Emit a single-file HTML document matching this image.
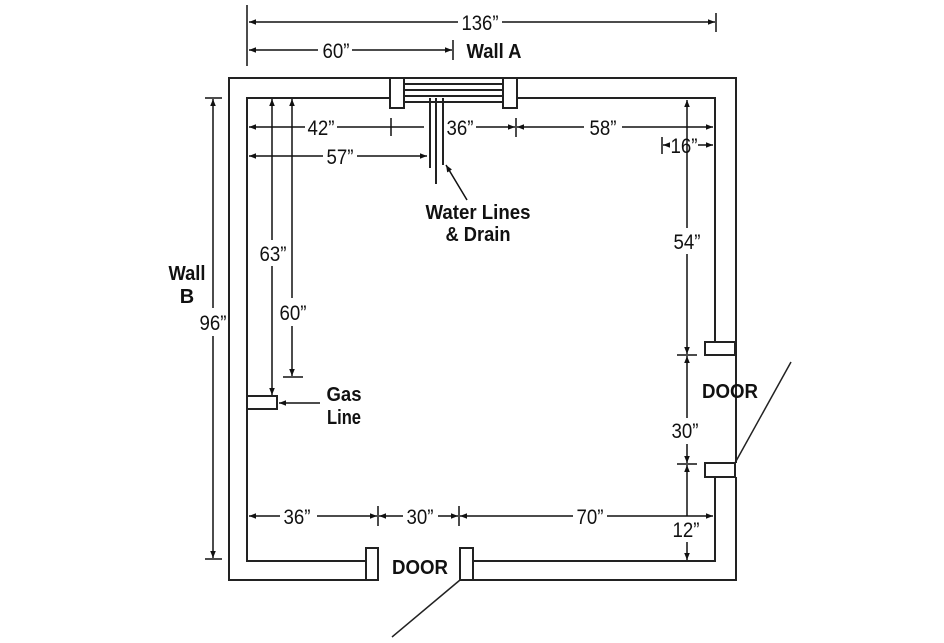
<!DOCTYPE html>
<html><head><meta charset="utf-8"><style>
html,body{margin:0;padding:0;background:#fff;}
svg{display:block;}
.d{font-family:"Liberation Sans Narrow","Liberation Sans",sans-serif;font-size:21px;fill:#111;text-anchor:middle;}
.b{font-family:"Liberation Sans Narrow","Liberation Sans",sans-serif;font-weight:bold;font-size:20px;fill:#111;text-anchor:middle;}
</style></head><body>
<svg width="944" height="643" viewBox="0 0 944 643" xmlns="http://www.w3.org/2000/svg">
<defs>
<marker id="a" viewBox="0 0 10 10" refX="10" refY="5" markerWidth="7" markerHeight="7" orient="auto-start-reverse" markerUnits="userSpaceOnUse"><path d="M0,1 L10,5 L0,9 z" fill="#111"/></marker>
</defs>
<g stroke="#222" stroke-width="2" fill="none">
<polyline points="366,580 229,580 229,78 736,78 736,463"/>
<polyline points="473,580 736,580 736,477"/>
<polyline points="366,561 247,561 247,98 390,98"/>
<polyline points="517,98 715,98 715,342"/>
<polyline points="473,561 715,561 715,477"/>
<rect x="390" y="78" width="14" height="30" fill="#fff"/>
<rect x="503" y="78" width="14" height="30" fill="#fff"/>
<line x1="404" y1="84" x2="503" y2="84"/>
<line x1="404" y1="90" x2="503" y2="90"/>
<line x1="404" y1="96" x2="503" y2="96"/>
<line x1="404" y1="102" x2="503" y2="102"/>
<rect x="705" y="342" width="30" height="13" fill="#fff"/>
<rect x="705" y="463" width="30" height="14" fill="#fff"/>
<line x1="735" y1="463" x2="791" y2="362" stroke-width="1.5"/>
<rect x="366" y="548" width="12" height="32" fill="#fff"/>
<rect x="460" y="548" width="13" height="32" fill="#fff"/>
<line x1="460" y1="580" x2="392" y2="637" stroke-width="1.5"/>
<line x1="430" y1="98" x2="430" y2="168"/>
<line x1="436" y1="98" x2="436" y2="184"/>
<line x1="443" y1="98" x2="443" y2="165"/>
<rect x="247" y="396" width="30" height="13" fill="#fff"/>
</g>
<g stroke="#111" stroke-width="1.5" fill="none">
<line x1="247" y1="5" x2="247" y2="66"/>
<line x1="716" y1="13" x2="716" y2="32"/>
<line x1="453" y1="40" x2="453" y2="60"/>
<line x1="249" y1="22" x2="458" y2="22" marker-start="url(#a)"/>
<line x1="502" y1="22" x2="715" y2="22" marker-end="url(#a)"/>
<line x1="249" y1="50" x2="318" y2="50" marker-start="url(#a)"/>
<line x1="352" y1="50" x2="452" y2="50" marker-end="url(#a)"/>
<line x1="249" y1="127" x2="305" y2="127" marker-start="url(#a)"/>
<line x1="337" y1="127" x2="424" y2="127"/>
<line x1="391" y1="118" x2="391" y2="136"/>
<line x1="476" y1="127" x2="515" y2="127" marker-end="url(#a)"/>
<line x1="516" y1="118" x2="516" y2="137"/>
<line x1="517" y1="127" x2="584" y2="127" marker-start="url(#a)"/>
<line x1="622" y1="127" x2="713" y2="127" marker-end="url(#a)"/>
<line x1="249" y1="156" x2="323" y2="156" marker-start="url(#a)"/>
<line x1="357" y1="156" x2="427" y2="156" marker-end="url(#a)"/>
<line x1="662" y1="137" x2="662" y2="154"/>
<line x1="663" y1="145" x2="670" y2="145" marker-start="url(#a)"/>
<line x1="698" y1="145" x2="713" y2="145" marker-end="url(#a)"/>
<line x1="687" y1="100" x2="687" y2="228" marker-start="url(#a)"/>
<line x1="687" y1="254" x2="687" y2="354" marker-end="url(#a)"/>
<line x1="677" y1="355" x2="697" y2="355"/>
<line x1="687" y1="356" x2="687" y2="418" marker-start="url(#a)"/>
<line x1="687" y1="444" x2="687" y2="463" marker-end="url(#a)"/>
<line x1="677" y1="464" x2="697" y2="464"/>
<line x1="687" y1="465" x2="687" y2="516" marker-start="url(#a)"/>
<line x1="687" y1="542" x2="687" y2="560" marker-end="url(#a)"/>
<line x1="249" y1="516" x2="280" y2="516" marker-start="url(#a)"/>
<line x1="317" y1="516" x2="377" y2="516" marker-end="url(#a)"/>
<line x1="378" y1="506" x2="378" y2="526"/>
<line x1="379" y1="516" x2="403" y2="516" marker-start="url(#a)"/>
<line x1="438" y1="516" x2="458" y2="516" marker-end="url(#a)"/>
<line x1="459" y1="506" x2="459" y2="526"/>
<line x1="460" y1="516" x2="573" y2="516" marker-start="url(#a)"/>
<line x1="607" y1="516" x2="713" y2="516" marker-end="url(#a)"/>
<line x1="272" y1="99" x2="272" y2="240" marker-start="url(#a)"/>
<line x1="272" y1="266" x2="272" y2="395" marker-end="url(#a)"/>
<line x1="292" y1="99" x2="292" y2="298" marker-start="url(#a)"/>
<line x1="292" y1="326" x2="292" y2="376" marker-end="url(#a)"/>
<line x1="283" y1="377" x2="303" y2="377"/>
<line x1="205" y1="98" x2="222" y2="98"/>
<line x1="205" y1="559" x2="222" y2="559"/>
<line x1="213" y1="99" x2="213" y2="308" marker-start="url(#a)"/>
<line x1="213" y1="336" x2="213" y2="558" marker-end="url(#a)"/>
<line x1="320" y1="403" x2="279" y2="403" marker-end="url(#a)"/>
<line x1="467" y1="200" x2="446" y2="165" marker-end="url(#a)"/>
</g>
<g>
<text class="d" x="480" y="30" textLength="37" lengthAdjust="spacingAndGlyphs">136”</text>
<text class="d" x="336" y="58" textLength="27" lengthAdjust="spacingAndGlyphs">60”</text>
<text class="b" x="494" y="58" textLength="55" lengthAdjust="spacingAndGlyphs">Wall A</text>
<text class="d" x="321" y="135" textLength="27" lengthAdjust="spacingAndGlyphs">42”</text>
<text class="d" x="460" y="135" textLength="27" lengthAdjust="spacingAndGlyphs">36”</text>
<text class="d" x="603" y="135" textLength="27" lengthAdjust="spacingAndGlyphs">58”</text>
<text class="d" x="340" y="164" textLength="27" lengthAdjust="spacingAndGlyphs">57”</text>
<text class="d" x="684" y="153" textLength="27" lengthAdjust="spacingAndGlyphs">16”</text>
<text class="b" x="478" y="219" textLength="105" lengthAdjust="spacingAndGlyphs">Water Lines</text>
<text class="b" x="478" y="241" textLength="65" lengthAdjust="spacingAndGlyphs">&amp; Drain</text>
<text class="d" x="687" y="249" textLength="27" lengthAdjust="spacingAndGlyphs">54”</text>
<text class="d" x="685" y="438" textLength="27" lengthAdjust="spacingAndGlyphs">30”</text>
<text class="d" x="686" y="537" textLength="27" lengthAdjust="spacingAndGlyphs">12”</text>
<text class="b" x="730" y="398" textLength="56" lengthAdjust="spacingAndGlyphs">DOOR</text>
<text class="b" x="420" y="574" textLength="56" lengthAdjust="spacingAndGlyphs">DOOR</text>
<text class="d" x="297" y="524" textLength="27" lengthAdjust="spacingAndGlyphs">36”</text>
<text class="d" x="420" y="524" textLength="27" lengthAdjust="spacingAndGlyphs">30”</text>
<text class="d" x="590" y="524" textLength="27" lengthAdjust="spacingAndGlyphs">70”</text>
<text class="d" x="273" y="261" textLength="27" lengthAdjust="spacingAndGlyphs">63”</text>
<text class="d" x="293" y="320" textLength="27" lengthAdjust="spacingAndGlyphs">60”</text>
<text class="d" x="213" y="330" textLength="27" lengthAdjust="spacingAndGlyphs">96”</text>
<text class="b" x="187" y="280" textLength="37" lengthAdjust="spacingAndGlyphs">Wall</text>
<text class="b" x="187" y="303">B</text>
<text class="b" x="344" y="401" textLength="35" lengthAdjust="spacingAndGlyphs">Gas</text>
<text class="b" x="344" y="424" textLength="34" lengthAdjust="spacingAndGlyphs">Line</text>
</g>
</svg>
</body></html>
